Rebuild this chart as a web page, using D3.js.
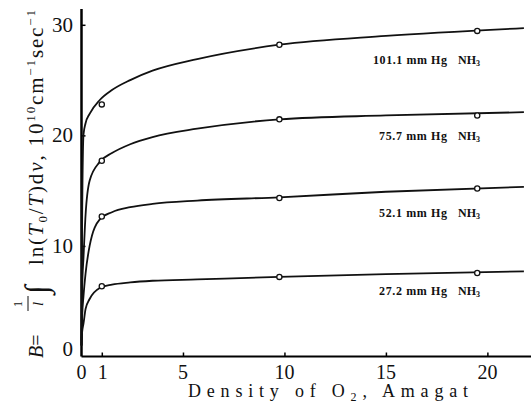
<!DOCTYPE html>
<html>
<head>
<meta charset="utf-8">
<script src="https://cdn.jsdelivr.net/npm/d3@7"></script>
<style>
  body { margin: 0; background: #fff; }
  text { font-family: "Liberation Serif", "DejaVu Serif", serif; fill: #111; }
</style>
</head>
<body>
<svg id="chart" width="531" height="407"></svg>
<script>
// data
const pressures = ['101.1', '75.7', '52.1', '27.2'];
const pointX = [1, 9.75, 19.5];
const pointB = [
  [22.8, 28.2, 29.45],
  [17.7, 21.45, 21.8],
  [12.66, 14.33, 15.2],
  [6.36, 7.2, 7.55]
];
const curveX = [0, 0.03, 0.1, 0.2, 0.4, 0.9, 1.5, 2.4, 3.5, 5.7, 9.75, 15, 21.8];
const curveB = [
  [1, 12, 20.1, 21.1, 21.95, 23.2, 24.1, 25.0, 25.85, 26.9, 28.2, 29.0, 29.7],
  [1, 6, 9, 12.8, 15.9, 17.6, 18.4, 19.2, 19.85, 20.6, 21.45, 21.8, 22.1],
  [1, 3.5, 5.5, 7.5, 10.0, 12.4, 13.05, 13.5, 13.8, 14.1, 14.4, 14.9, 15.35],
  [1.5, 2.2, 3.0, 4.3, 5.2, 6.2, 6.5, 6.7, 6.85, 6.97, 7.2, 7.45, 7.7]
];
const xTicks = [0, 1, 5, 10, 15, 20];
const yTicks = [0, 10, 20, 30];

const svg = d3.select('#chart');

const x = d3.scaleLinear().domain([0, 22.1]).range([81.5, 530]);
const y = d3.scaleLinear().domain([0, 31.7]).range([356.5, 6]);

// axes (ticks point inward, labels placed by hand below)
const xAxis = svg.append('g').attr('transform', `translate(0,${y(0)})`)
  .call(d3.axisTop(x).tickValues(xTicks.slice(1)).tickSize(4).tickFormat(''));
xAxis.select('.domain').attr('d', `M${x(0)},0H531`).attr('stroke-width', 2.2);
xAxis.selectAll('.tick line').attr('stroke-width', 1.5);

const yAxis = svg.append('g').attr('transform', `translate(${x(0)},0)`)
  .call(d3.axisRight(y).tickValues(yTicks.slice(1)).tickSize(4).tickFormat(''));
yAxis.select('.domain').attr('d', `M0,9V${y(0)}`).attr('stroke-width', 2.5);
yAxis.selectAll('.tick line').attr('stroke-width', 1.5);

svg.append('g').selectAll('text').data(xTicks).join('text')
  .attr('x', d => x(d) + (d === 1 ? 1 : 0))
  .attr('y', 379)
  .attr('text-anchor', 'middle')
  .attr('font-size', 20)
  .text(d => d);

svg.append('g').selectAll('text').data(yTicks).join('text')
  .attr('x', 73)
  .attr('y', d => y(d) + (d === 0 ? -1 : 7))
  .attr('text-anchor', 'end')
  .attr('font-size', 21)
  .text(d => d);

// curves
const line = d3.line().x(d => x(d[0])).y(d => y(d[1])).curve(d3.curveMonotoneX);

svg.append('g').selectAll('path').data(curveB).join('path')
  .attr('d', s => line(curveX.map((cx, i) => [cx, s[i]])))
  .attr('fill', 'none')
  .attr('stroke', '#111')
  .attr('stroke-width', 1.8);

svg.append('g').selectAll('g').data(pointB).join('g')
  .selectAll('circle').data(s => s.map((b, i) => [pointX[i], b])).join('circle')
  .attr('cx', d => x(d[0]))
  .attr('cy', d => y(d[1]))
  .attr('r', 2.6)
  .attr('fill', '#fff')
  .attr('stroke', '#111')
  .attr('stroke-width', 1.3);

// series labels
const labelY = [60, 136, 213, 291];
const lab = svg.append('g').selectAll('text').data(pressures).join('text')
  .attr('x', (d, i) => i === 0 ? 373 : 379)
  .attr('y', (d, i) => labelY[i] + 4)
  .attr('font-size', 12)
  .attr('font-weight', 'bold');
lab.append('tspan').attr('textLength', (d, i) => i === 0 ? 74 : 68).text(d => d + ' mm Hg');
lab.append('tspan').attr('x', 458).text('NH');
lab.append('tspan').attr('font-size', 8).attr('dy', 2).text('3');

// x title
const xt = svg.append('text')
  .attr('x', 188).attr('y', 397)
  .attr('font-size', 18)
  .attr('textLength', 280).attr('lengthAdjust', 'spacing');
xt.append('tspan').text('Density of O');
xt.append('tspan').attr('font-size', 12).attr('dy', 4).text('2');
xt.append('tspan').attr('dy', -4).text(', Amagat');

// y title, rotated; local x runs upward from the bottom
const yt = svg.append('g').attr('transform', 'translate(43,358) rotate(-90)');
yt.append('text').attr('x', 0).attr('y', 0).attr('font-size', 20)
  .html('<tspan font-style="italic">B</tspan>=');
yt.append('text').attr('x', 54).attr('y', -21).attr('font-size', 12)
  .attr('text-anchor', 'middle').text('1');
yt.append('line').attr('x1', 47).attr('x2', 62).attr('y1', -15).attr('y2', -15)
  .attr('stroke', '#111').attr('stroke-width', 1);
yt.append('text').attr('x', 54).attr('y', 0).attr('font-size', 15)
  .attr('font-style', 'italic').attr('text-anchor', 'middle').text('l');
yt.append('text').attr('x', 64).attr('y', 4).attr('font-size', 32)
  .attr('font-style', 'italic').text('∫');
const ym = yt.append('text').attr('x', 93).attr('y', 0).attr('font-size', 21)
  .attr('textLength', 255).attr('lengthAdjust', 'spacing');
ym.append('tspan').text('ln(');
ym.append('tspan').attr('font-style', 'italic').text('T');
ym.append('tspan').attr('font-size', 13).attr('dy', 4).text('0');
ym.append('tspan').attr('dy', -4).text('/');
ym.append('tspan').attr('font-style', 'italic').text('T');
ym.append('tspan').text(')d');
ym.append('tspan').attr('font-style', 'italic').text('ν');
ym.append('tspan').text(',  10');
ym.append('tspan').attr('font-size', 13).attr('dy', -8).text('10');
ym.append('tspan').attr('dy', 8).text('cm');
ym.append('tspan').attr('font-size', 13).attr('dy', -8).text('−1');
ym.append('tspan').attr('dy', 8).text('sec');
ym.append('tspan').attr('font-size', 13).attr('dy', -8).text('−1');
</script>
</body>
</html>
